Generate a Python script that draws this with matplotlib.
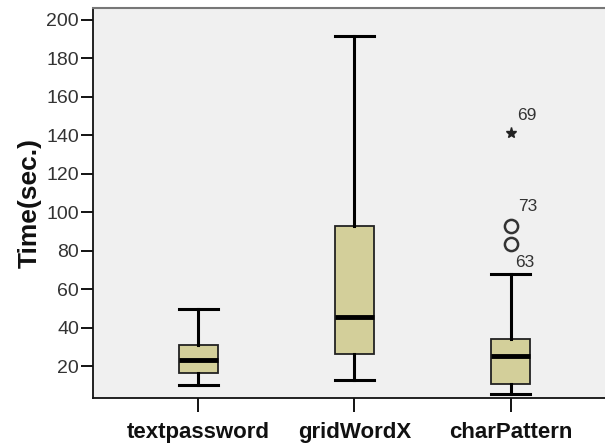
import matplotlib
matplotlib.use("Agg")
import matplotlib.pyplot as plt

categories = ["textpassword", "gridWordX", "charPattern"]
whisker_low = [10.0, 12.9, 5.3]
q1 = [16.2, 26.0, 10.6]
median = [23.4, 45.4, 25.2]
q3 = [30.9, 93.0, 34.3]
whisker_high = [49.5, 191.5, 68.0]
outliers = [[], [], [93.0, 83.2]]
extremes = [[], [], [141.2]]
# label text, box index, value of the point it tags, offset in pixels (dx, dy)
out_labels = [("69", 3, 141.2, (6, 17)), ("73", 3, 93.0, (7, 19)), ("63", 3, 83.2, (4, -18))]
yticks = [20, 40, 60, 80, 100, 120, 140, 160, 180, 200]

plt.rcParams['font.family'] = ['Liberation Sans', 'DejaVu Sans']

fig = plt.figure(figsize=(6.05, 4.47), dpi=100)
ax = fig.add_axes([93/605, 49/447, 523/605, 390/447])
ax.set_facecolor('#F0F0F0')

stats = []
for i in range(3):
    stats.append(dict(whislo=whisker_low[i], q1=q1[i], med=median[i], q3=q3[i],
                      whishi=whisker_high[i], fliers=[]))
pos = [1, 2, 3]
ax.bxp(stats, positions=pos, widths=0.25, patch_artist=True, showfliers=False,
       boxprops=dict(facecolor='#D3CF9A', edgecolor='#222222', linewidth=1.3),
       medianprops=dict(color='black', linewidth=3.5),
       whiskerprops=dict(color='black', linewidth=2.2),
       capprops=dict(color='black', linewidth=2.2), capwidths=0.25)

for i in range(3):
    if outliers[i]:
        ax.plot([pos[i]]*len(outliers[i]), outliers[i], 'o', mfc='none', mec='#333333',
                ms=9.5, mew=1.8)
    if extremes[i]:
        ax.plot([pos[i]]*len(extremes[i]), extremes[i], '*', color='#222222', ms=8)

for txt, p, v, (dx, dy) in out_labels:
    ax.annotate(txt, (p, v), xytext=(dx*0.72, dy*0.72), textcoords='offset points',
                fontsize=12.5, color='#333333', va='center', ha='left')

ax.set_xlim(0.327, 3.673)
ax.set_ylim(3.4, 206)
ax.set_yticks(yticks)
ax.set_xticks(pos)
ax.set_xticklabels(categories, fontsize=16, fontweight='bold', color='#111111')
ax.tick_params(axis='y', length=9, width=1.3, labelsize=14, labelcolor='#333333', pad=1)
ax.tick_params(axis='x', length=10, width=1.3, pad=7)
ax.set_ylabel('Time(sec.)', fontsize=19, fontweight='bold', color='#111111', labelpad=3)
for s in ['left', 'bottom']:
    ax.spines[s].set_linewidth(1.3)
    ax.spines[s].set_color('#111111')
ax.spines['top'].set_color('#777777')
ax.spines['top'].set_linewidth(1.5)

fig.savefig('out.png', dpi=100)
